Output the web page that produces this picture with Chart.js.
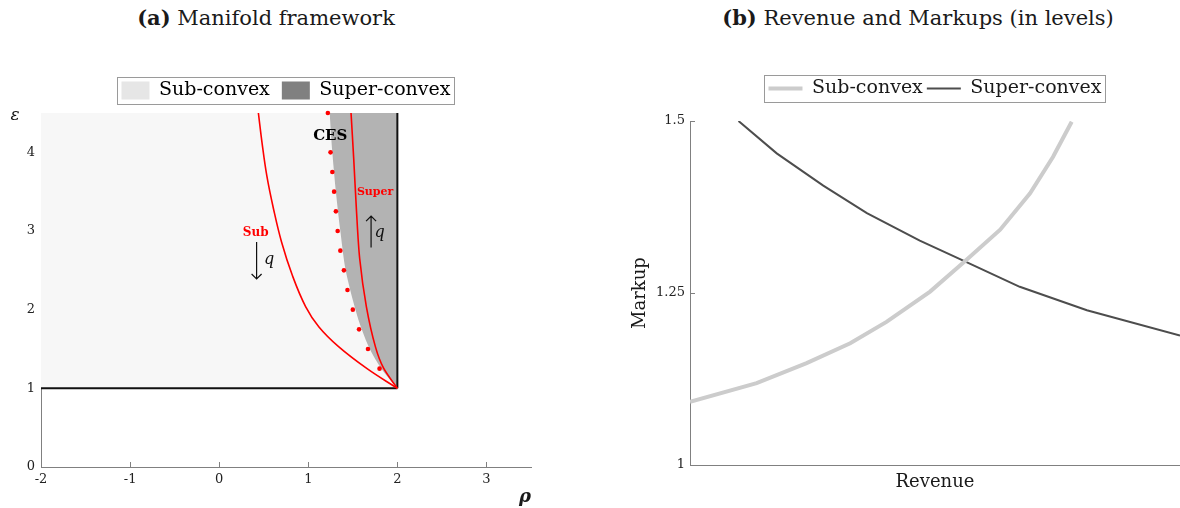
<!DOCTYPE html>
<html>
<head>
<meta charset="utf-8">
<script src="https://cdn.jsdelivr.net/npm/chart.js@4"></script>
<style>
  html, body { margin: 0; padding: 0; background: #fff; width: 1180px; height: 508px; overflow: hidden; position: relative; font-family: 'DejaVu Serif', serif; color: #1a1a1a; }
  .title { position: absolute; top: 5px; font-size: 21px; line-height: 26px; white-space: nowrap; transform: translateX(-50%); }
  #ta { left: 266px; }
  #tb { left: 918px; }
  #wa { position: absolute; left: 0; top: 0; width: 580px; height: 508px; }
  #wb { position: absolute; left: 600px; top: 0; width: 580px; height: 508px; }
</style>
</head>
<body>
<div class="title" id="ta"><b>(a)</b> Manifold framework</div>
<div class="title" id="tb"><b>(b)</b> Revenue and Markups (in levels)</div>
<div id="wa"><canvas id="chartA"></canvas></div>
<div id="wb"><canvas id="chartB"></canvas></div>
<script>
/* ===== DATA (a) ===== */
const rhoTicks = [-2, -1, 0, 1, 2, 3];
const epsTicks = [0, 1, 2, 3, 4];
const legendA = ["Sub-convex", "Super-convex"];
const regionRho = [-2, 2];
const cutRho = 2;
const epsFloor = 1;
const epsTop = 4.5;

// edge of the dark (super-convex) area
const edgeRho = [1.24, 1.27, 1.31, 1.36, 1.42, 1.53, 1.6, 1.69, 1.82, 2.0];
const edgeEps = [4.5, 4.0, 3.5, 3.0, 2.5, 2.0, 1.75, 1.5, 1.25, 1.0];

// CES dots
const cesRho = [1.22, 1.25, 1.27, 1.29, 1.31, 1.33, 1.36, 1.4, 1.44, 1.5, 1.57, 1.67, 1.8];
const cesEps = [4.5, 4.0, 3.75, 3.5, 3.25, 3.0, 2.75, 2.5, 2.25, 2.0, 1.75, 1.5, 1.25];

// red curves
const subRho = [0.44, 0.48, 0.535, 0.61, 0.7, 0.82, 0.97, 1.12, 1.34, 1.66, 2.0];
const subEps = [4.5, 4.13, 3.7, 3.28, 2.86, 2.44, 2.04, 1.78, 1.53, 1.25, 1.0];
const superRho = [1.48, 1.51, 1.54, 1.577, 1.652, 1.754, 1.847, 2.0];
const superEps = [4.5, 3.92, 3.28, 2.65, 2.04, 1.527, 1.253, 1.0];

/* ===== DATA (b) ===== */
const revSub = [0, 13.6, 23.8, 32.7, 40.1, 49.0, 56.1, 63.3, 69.4, 74.1, 77.9];
const mkSub = [1.092, 1.119, 1.148, 1.177, 1.208, 1.252, 1.296, 1.342, 1.395, 1.448, 1.499];
const revSuper = [9.9, 17.7, 27.2, 36.1, 46.9, 56.1, 67.3, 81.0, 100];
const mkSuper = [1.5, 1.453, 1.406, 1.366, 1.326, 1.296, 1.259, 1.225, 1.188];
const markupTicks = [1, 1.25, 1.5];

/* ===== ANNOTATIONS (a) ===== */
const noteTexts = [
  { text: "CES", x: 1.247, y: 4.21, color: "#000", font: "bold 15px 'DejaVu Serif'" },
  { text: "Super", x: 1.75, y: 3.49, color: "#ff0000", font: "bold 11px 'DejaVu Serif'" },
  { text: "Sub", x: 0.41, y: 2.98, color: "#ff0000", font: "bold 12px 'DejaVu Serif'" },
  { text: "q", x: 0.56, y: 2.63, color: "#111", font: "italic 16px 'DejaVu Serif'" },
  { text: "q", x: 1.8, y: 2.98, color: "#111", font: "italic 16px 'DejaVu Serif'" },
];
const noteArrows = [
  { x: 0.42, from: 2.86, to: 2.39 },
  { x: 1.705, from: 2.79, to: 3.19 },
];
const swatchA = ["#e6e6e6", "#808080"];

Chart.defaults.font.family = "'DejaVu Serif', serif";
Chart.defaults.color = "#1a1a1a";
Chart.defaults.animation = false;

const xy = (xs, ys) => xs.map((v, i) => ({ x: v, y: ys[i] }));
const tickList = (list) => (s) => { s.ticks = list.map((v) => ({ value: v })); };

/* legend centred on plot area + thin frame */
const legendFrame = {
  id: "legendFrame",
  afterLayout(chart, args, opts) {
    const lg = chart.legend, a = chart.chartArea;
    const w = lg.right - lg.left, h = lg.bottom - lg.top;
    const cx = (a.left + a.right) / 2;
    lg.left = cx - w / 2; lg.right = lg.left + w;
    lg.top = opts.rowY - lg.options.labels.padding - opts.half; lg.bottom = lg.top + h;
  },
  afterDraw(chart) {
    const hb = chart.legend.legendHitBoxes;
    if (!hb || !hb.length) return;
    const f = hb[0], l = hb[hb.length - 1];
    const ctx = chart.ctx;
    ctx.save();
    ctx.strokeStyle = "#9a9a9a";
    ctx.lineWidth = 1;
    ctx.strokeRect(Math.round(f.left - 4) + 0.5, Math.round(f.top - 4) + 0.5,
      Math.round(l.left + l.width - f.left + 8), Math.round(f.height + 8));
    ctx.restore();
  },
};

/* labels, arrows and epsilon for (a) */
const notes = {
  id: "notes",
  afterDatasetsDraw(chart) {
    const { ctx, scales: { x, y } } = chart;
    ctx.save();
    ctx.textAlign = "center";
    ctx.textBaseline = "middle";
    noteTexts.forEach((n) => {
      ctx.font = n.font;
      ctx.fillStyle = n.color;
      ctx.fillText(n.text, x.getPixelForValue(n.x), y.getPixelForValue(n.y));
    });
    ctx.strokeStyle = "#111";
    ctx.lineWidth = 1.2;
    noteArrows.forEach((a) => {
      const px = x.getPixelForValue(a.x);
      const y0 = y.getPixelForValue(a.from), y1 = y.getPixelForValue(a.to);
      const d = y1 > y0 ? -5 : 5;
      ctx.beginPath();
      ctx.moveTo(px, y0); ctx.lineTo(px, y1);
      ctx.moveTo(px - 5, y1 + d); ctx.lineTo(px, y1); ctx.lineTo(px + 5, y1 + d);
      ctx.stroke();
    });
    ctx.font = "italic 17px 'DejaVu Serif'";
    ctx.fillStyle = "#111";
    ctx.fillText("ε", y.left + 15, chart.chartArea.top + 3);
    ctx.restore();
  },
};

const axisBase = {
  border: { color: "#808080", width: 1 },
  grid: { drawOnChartArea: false, tickLength: -5, tickColor: "#808080" },
};

/* ===== PANEL (a) ===== */
new Chart(document.getElementById("chartA"), {
  type: "line",
  data: {
    datasets: [
      { data: xy(regionRho, [epsTop, epsTop]), borderColor: "transparent", borderWidth: 0,
        backgroundColor: "#f7f7f7", fill: { value: epsFloor }, pointRadius: 0, order: 10 },
      { data: xy([edgeRho[0], cutRho], [epsTop, epsTop]), borderColor: "transparent", borderWidth: 0,
        backgroundColor: "#b3b3b3", fill: "+1", pointRadius: 0, order: 9 },
      { data: xy(edgeRho, edgeEps), borderColor: "transparent", borderWidth: 0, fill: false,
        pointRadius: 0, tension: 0.3, order: 8 },
      { data: xy(regionRho, [epsFloor, epsFloor]), borderColor: "#111", borderWidth: 2,
        pointRadius: 0, fill: false, order: 3 },
      { data: xy([cutRho, cutRho], [epsFloor, epsTop]), borderColor: "#111", borderWidth: 2,
        pointRadius: 0, fill: false, order: 3 },
      { data: xy(subRho, subEps), borderColor: "#ff0000", borderWidth: 1.6, pointRadius: 0,
        fill: false, tension: 0.4, order: 2 },
      { data: xy(superRho, superEps), borderColor: "#ff0000", borderWidth: 1.6, pointRadius: 0,
        fill: false, tension: 0.3, order: 2 },
      { data: xy(cesRho, cesEps), showLine: false, pointRadius: 2.3, pointBorderWidth: 0,
        pointBackgroundColor: "#ff0000", clip: false, order: 1 },
    ],
  },
  options: {
    responsive: true,
    maintainAspectRatio: false,
    events: [],
    layout: { padding: { top: 72, right: 49, left: 0, bottom: 0 } },
    plugins: {
      legend: {
        position: "top",
        labels: {
          boxWidth: 28, boxHeight: 18, padding: 12, font: { size: 19 }, color: "#1a1a1a",
          generateLabels: () => legendA.map((t, i) => ({
            text: t, fillStyle: swatchA[i], strokeStyle: swatchA[i], lineWidth: 0,
            hidden: false, datasetIndex: i,
          })),
        },
      },
      legendFrame: { rowY: 91, half: 10 },
      tooltip: { enabled: false },
    },
    scales: {
      x: {
        ...axisBase, type: "linear", min: -2, max: 3.5,
        afterBuildTicks: tickList(rhoTicks),
        afterFit: (s) => { s.height = 41; },
        ticks: { padding: 10, font: { size: 13 }, color: "#222", callback: (v) => String(v), maxRotation: 0, autoSkip: false },
        title: { display: true, text: "ρ", align: "end", font: { size: 18, style: "italic", weight: "bold" }, padding: { top: 0, bottom: 0 } },
      },
      y: {
        ...axisBase, type: "linear", min: 0, max: 4.5,
        afterBuildTicks: tickList(epsTicks),
        afterFit: (s) => { s.width = 41; },
        ticks: { padding: 11, font: { size: 13 }, color: "#222", callback: (v) => String(v) },
      },
    },
  },
  plugins: [legendFrame, notes],
});

/* ===== PANEL (b) ===== */
new Chart(document.getElementById("chartB"), {
  type: "line",
  data: {
    datasets: [
      { label: "Sub-convex", data: xy(revSub, mkSub), borderColor: "#cccccc", borderWidth: 4,
        pointRadius: 0, fill: false },
      { label: "Super-convex", data: xy(revSuper, mkSuper), borderColor: "#4d4d4d", borderWidth: 2,
        pointRadius: 0, fill: false },
    ],
  },
  options: {
    responsive: true,
    maintainAspectRatio: false,
    events: [],
    layout: { padding: { top: 88, right: 0, left: 0, bottom: 0 } },
    plugins: {
      legend: {
        position: "top",
        labels: {
          usePointStyle: true, pointStyle: "line", pointStyleWidth: 34, padding: 4,
          font: { size: 19 }, color: "#1a1a1a",
        },
      },
      legendFrame: { rowY: 88.5, half: 9.5 },
      tooltip: { enabled: false },
    },
    scales: {
      x: {
        type: "linear", min: 0, max: 100,
        border: { color: "#808080", width: 1 },
        grid: { display: false },
        ticks: { display: false },
        afterFit: (s) => { s.height = 43; },
        title: { display: true, text: "Revenue", font: { size: 18 }, padding: { top: 0, bottom: 15 } },
      },
      y: {
        ...axisBase, type: "linear", min: 1, max: 1.5,
        afterBuildTicks: tickList(markupTicks),
        afterFit: (s) => { s.width = 90; },
        ticks: { padding: 10, font: { size: 13 }, color: "#222", callback: (v) => String(v) },
        title: { display: true, text: "Markup", font: { size: 18 }, padding: { top: 30, bottom: 0 } },
      },
    },
  },
  plugins: [legendFrame],
});
</script>
</body>
</html>
